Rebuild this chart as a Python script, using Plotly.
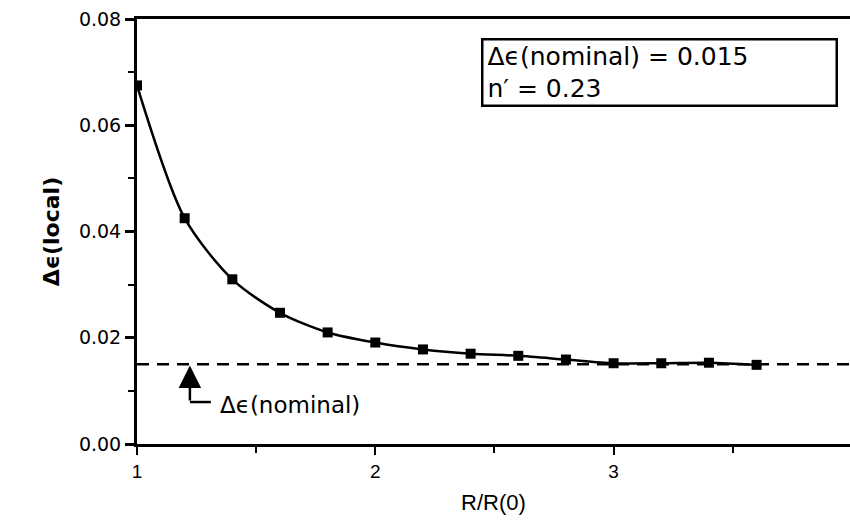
import plotly.graph_objects as go

# Data
r_ratio = [1.0, 1.2, 1.4, 1.6, 1.8, 2.0, 2.2, 2.4, 2.6, 2.8, 3.0, 3.2, 3.4, 3.6]
de_local = [0.0675, 0.0425, 0.0310, 0.0247, 0.0210, 0.0191, 0.0178, 0.0170, 0.0166, 0.0159, 0.0152, 0.0152, 0.0153, 0.0149]
nominal_x = [1.0, 4.0]
nominal_y = [0.015, 0.015]
y_ticks = [0.00, 0.02, 0.04, 0.06, 0.08]
y_ticklabels = ["0.00", "0.02", "0.04", "0.06", "0.08"]
x_ticks = [1, 2, 3]
x_ticklabels = ["1", "2", "3"]

TXT = "DejaVu Sans"

fig = go.Figure()
fig.add_trace(go.Scatter(x=nominal_x, y=nominal_y, mode="lines",
                         line=dict(color="black", width=2.5, dash="12px,8px"),
                         showlegend=False, hoverinfo="skip"))
fig.add_trace(go.Scatter(x=r_ratio, y=de_local, mode="lines+markers",
                         line=dict(color="black", width=2.5, shape="spline", smoothing=0.8),
                         marker=dict(symbol="square", size=10, color="black"),
                         showlegend=False))

# arrow pointing to nominal line
fig.add_annotation(x=1.222, y=0.0148, ax=1.222, ay=0.0079, xref="x", yref="y",
                   axref="x", ayref="y", text="", showarrow=True,
                   arrowhead=2, arrowsize=1.8, arrowwidth=2.5, arrowcolor="black")
fig.add_shape(type="line", x0=1.222, y0=0.0079, x1=1.31, y1=0.0079,
              line=dict(color="black", width=2.5))
fig.add_annotation(x=1.34, y=0.0073, xref="x", yref="y", text="Δϵ(nominal)",
                   showarrow=False, xanchor="left", yanchor="middle",
                   font=dict(family=TXT, size=23, color="black"))

# info box
fig.add_annotation(x=0.983, y=0.955, xref="paper", yref="paper",
                   xanchor="right", yanchor="top",
                   text="Δϵ(nominal) = 0.015<br>n′ = 0.23", align="left",
                   showarrow=False, width=344, height=56, borderpad=4,
                   bordercolor="black", borderwidth=2.5, bgcolor="white",
                   font=dict(family=TXT, size=25, color="black"))

# partially visible tick label "4"
fig.add_annotation(x=4, y=0, xref="x", yref="paper", yanchor="top", yshift=-10,
                   text="4", showarrow=False,
                   font=dict(family="Liberation Sans", size=19, color="black"))

fig.update_xaxes(range=[1, 3.992], tickvals=x_ticks, ticktext=x_ticklabels,
                 automargin=False,
                 showgrid=False, zeroline=False, showline=True, linecolor="black",
                 linewidth=3, mirror=True, ticks="outside", ticklen=8, tickwidth=2,
                 tickcolor="black",
                 minor=dict(dtick=0.5, tick0=1, ticks="outside", ticklen=6, tickwidth=2, tickcolor="black"),
                 tickfont=dict(family="Liberation Sans", size=19, color="black"),
                 title=dict(text="R/R(0)", font=dict(family="Liberation Sans", size=22, color="black"),
                            standoff=14))
fig.update_yaxes(range=[0, 0.08], tickvals=y_ticks, ticktext=y_ticklabels,
                 automargin=False,
                 showgrid=False, zeroline=False, showline=True, linecolor="black",
                 linewidth=3, ticks="outside", ticklen=9, tickwidth=2.5, tickcolor="black",
                 minor=dict(dtick=0.01, tick0=0, ticks="outside", ticklen=6, tickwidth=2, tickcolor="black"),
                 tickfont=dict(family=TXT, size=19, color="black"),
                 title=dict(text="<b>Δϵ(local)</b>", font=dict(family=TXT, size=22, color="black"),
                            standoff=14))

fig.update_layout(width=850, height=529, margin=dict(l=137, r=0, t=19, b=85),
                  paper_bgcolor="white", plot_bgcolor="white", showlegend=False)

fig.write_html("out.html", config={"displayModeBar": False},
               post_script="document.body.style.margin='0';document.body.style.overflow='hidden';")
